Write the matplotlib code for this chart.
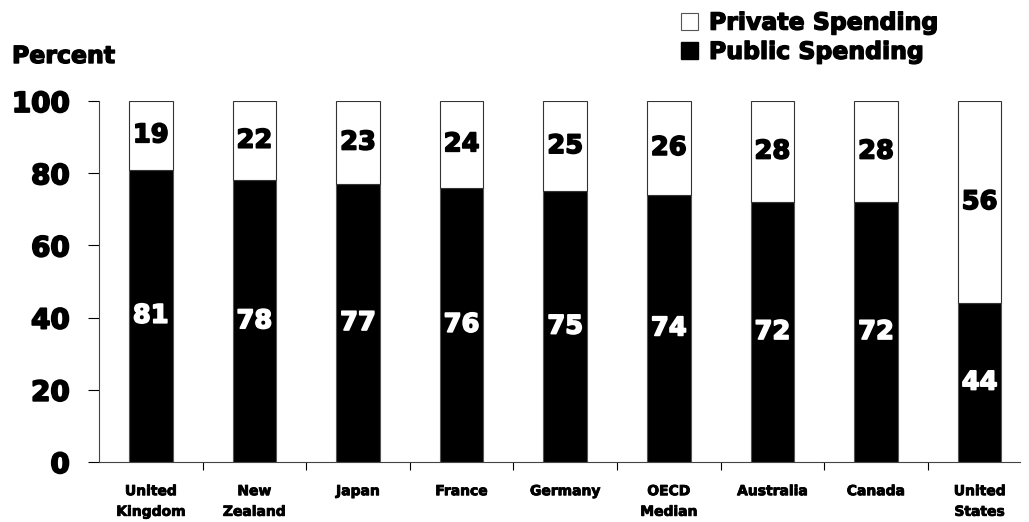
import numpy as np
import matplotlib
matplotlib.use("Agg")
import matplotlib.pyplot as plt
from matplotlib.patches import Patch
import matplotlib.patheffects as pe

# data
countries = ["United\nKingdom", "New\nZealand", "Japan", "France", "Germany",
             "OECD\nMedian", "Australia", "Canada", "United\nStates"]
public = [81, 78, 77, 76, 75, 74, 72, 72, 44]
private = [19, 22, 23, 24, 25, 26, 28, 28, 56]

plt.rcParams['font.family'] = ['DejaVu Sans']
plt.rcParams['font.weight'] = 'bold'

# thicker strokes, closer to the heavy font of the original
def heavy(color, lw=1.0):
    return [pe.withStroke(linewidth=lw, foreground=color)]

fig = plt.figure(figsize=(10.29, 5.22), dpi=100)
ax = fig.add_axes([0.0962, 0.115, 0.8951, 0.6915])

x = np.arange(len(countries))
w = 0.42
ax.bar(x, public, w, color='black', edgecolor='#555555', linewidth=0.8)
ax.bar(x, private, w, bottom=public, color='white', edgecolor='#333333', linewidth=0.8)

# value labels centred in each segment
for xi, pu, pr in zip(x, public, private):
    ax.text(xi, pu / 2, str(pu), ha='center', va='center', color='white',
            fontsize=18.5, fontweight='bold', path_effects=heavy('white', 1.2))
    ax.text(xi, pu + pr / 2, str(pr), ha='center', va='center', color='black',
            fontsize=18.5, fontweight='bold', path_effects=heavy('black', 1.2))

ax.set_xlim(-0.5, 8.39)
ax.set_ylim(0, 100)
ax.set_yticks([0, 20, 40, 60, 80, 100])
ax.tick_params(axis='y', direction='out', length=8, width=0.8, pad=13,
               labelsize=20, colors='black')
for lab in ax.get_yticklabels():
    lab.set_fontweight('bold')
    lab.set_path_effects(heavy('black', 1.3))

# x ticks sit between categories, labels centred under bars
ax.set_xticks(np.arange(0.5, 8.5, 1.0))
ax.set_xticklabels([])
ax.set_xticks(x, minor=True)
ax.set_xticklabels(countries, minor=True, fontsize=10, fontweight='bold',
                   linespacing=1.6)
for lab in ax.get_xticklabels(minor=True):
    lab.set_path_effects(heavy('black', 0.6))
ax.tick_params(axis='x', which='major', direction='out', length=6, width=0.8)
ax.tick_params(axis='x', which='minor', length=0, pad=16)

for s in ['top', 'right']:
    ax.spines[s].set_visible(False)
ax.spines['left'].set_color('#444444')
ax.spines['bottom'].set_color('#444444')

fig.text(12 / 1029, 1 - 63 / 522, "Percent", fontsize=17, fontweight='bold',
         ha='left', va='baseline', path_effects=heavy('black', 1.0))

handles = [Patch(facecolor='white', edgecolor='#555555', linewidth=0.8),
           Patch(facecolor='black', edgecolor='black')]
leg = fig.legend(handles, ["Private Spending", "Public Spending"],
                 loc='upper left', bbox_to_anchor=(670 / 1029, 1.0),
                 frameon=False, prop={'weight': 'bold', 'size': 17},
                 handlelength=0.75, handleheight=0.75, handletextpad=0.45,
                 labelspacing=0.22, borderaxespad=0.05)
for t in leg.get_texts():
    t.set_path_effects(heavy('black', 1.0))

fig.savefig("out.png", dpi=100)
